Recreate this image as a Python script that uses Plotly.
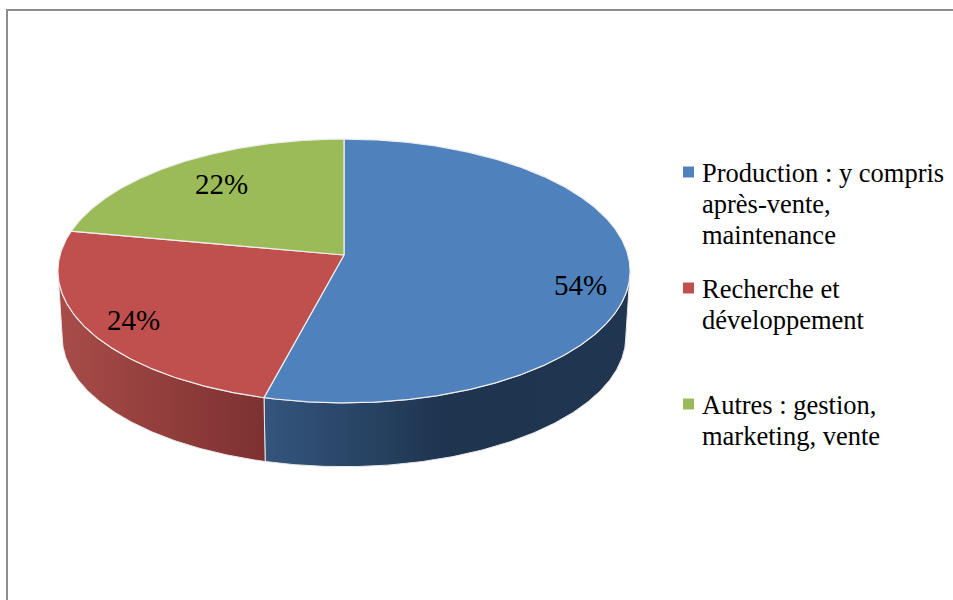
import numpy as np
import plotly.graph_objects as go

# shares, clockwise from 12 o'clock
categories = ["Production : y compris<br>après-vente,<br>maintenance",
              "Recherche et<br>développement",
              "Autres : gestion,<br>marketing, vente"]
shares = [54, 24, 22]
share_labels = ["54%", "24%", "22%"]

TOP_COLORS = ["#4f81bd", "#c0504d", "#9bbb59"]
SIDE_SCALES = [
    [[0, "#34557d"], [0.5, "#1e344f"], [1, "#1f3550"]],
    [[0, "#a84c49"], [1, "#7c3130"]],
    None,
]
SERIF = "Liberation Serif"

# perspective ellipse, in page pixels
CX, CY = 344, 255
RX, RY, TILT = 284, 130, 0.121
DEPTH, BASE_SCALE = 66, 0.985
# rim angles where the wall meets the silhouette of the disc
WALL_FROM, WALL_TO = 97, 263


def rim(deg, scale=1.0, drop=0.0):
    t = np.radians(deg)
    u, v = np.sin(t), np.cos(t)
    d = 1 + TILT * v
    return CX + scale * RX * u / d, CY + drop - scale * RY * v / d


def arc(a, b):
    return np.linspace(a, b, max(int(abs(b - a) * 2), 2))


edges = np.cumsum([0] + shares) / sum(shares) * 360

fig = go.Figure()

# side walls first, the top faces paint over whatever is hidden
for i, scale in enumerate(SIDE_SCALES):
    if scale is None:
        continue
    a, b = max(edges[i], WALL_FROM), min(edges[i + 1], WALL_TO)
    tx, ty = rim(arc(a, b))
    bx, by = rim(arc(b, a), BASE_SCALE, DEPTH)
    fig.add_trace(go.Scatter(
        x=np.r_[tx, bx, tx[0]], y=np.r_[ty, by, ty[0]],
        mode="lines", fill="toself",
        line={"color": "#e8e8e8", "width": 1},
        fillgradient={"type": "horizontal", "colorscale": scale},
        hoverinfo="skip", showlegend=False,
    ))

for i, color in enumerate(TOP_COLORS):
    x, y = rim(arc(edges[i], edges[i + 1]))
    fig.add_trace(go.Scatter(
        x=np.r_[CX, x, CX], y=np.r_[CY, y, CY],
        mode="lines", fill="toself", fillcolor=color,
        line={"color": "#eeeeee", "width": 1.2},
        text=categories[i].replace("<br>", " ") + " " + share_labels[i],
        hoverinfo="text", showlegend=False,
    ))

# slice labels sit at a fixed fraction of the radius, nudged by hand
for i, label in enumerate(share_labels):
    mid = (edges[i] + edges[i + 1]) / 2
    offset = [(-1, 16), (2, 3), (10, 2)][i]
    lx, ly = rim(mid, [0.83, 0.83, 0.8][i])
    fig.add_annotation(x=lx + offset[0], y=ly + offset[1], text=label, showarrow=False,
                       font={"family": SERIF, "size": 29, "color": "#000000"})

# legend, drawn by hand because of its uneven spacing
legend_y = [173, 289, 405]
fig.add_trace(go.Scatter(
    x=[688.5] * 3, y=[v - 1 for v in legend_y], mode="markers",
    marker={"symbol": "square", "size": 11, "color": TOP_COLORS},
    hoverinfo="skip", showlegend=False,
))
for name, top in zip(categories, legend_y):
    for j, line in enumerate(name.split("<br>")):
        fig.add_annotation(x=700, y=top + j * 31, text=line, showarrow=False,
                           xanchor="left", yanchor="middle",
                           font={"family": SERIF, "size": 26.5, "color": "#000000"})

# outer chart border, cropped on the right and bottom
fig.add_shape(type="line", x0=7, x1=7, y0=10, y1=600, line={"color": "#8c8c8c", "width": 2})
fig.add_shape(type="line", x0=6, x1=953, y0=10, y1=10, line={"color": "#8c8c8c", "width": 2})

fig.update_layout(
    width=953, height=600,
    margin={"l": 0, "r": 0, "t": 0, "b": 0},
    paper_bgcolor="white", plot_bgcolor="white",
    xaxis={"range": [0, 953], "visible": False, "fixedrange": True},
    yaxis={"range": [600, 0], "visible": False, "fixedrange": True},
)
fig.write_html("out.html", config={"displayModeBar": False},
               post_script="document.body.style.margin='0';document.body.style.overflow='hidden';")
